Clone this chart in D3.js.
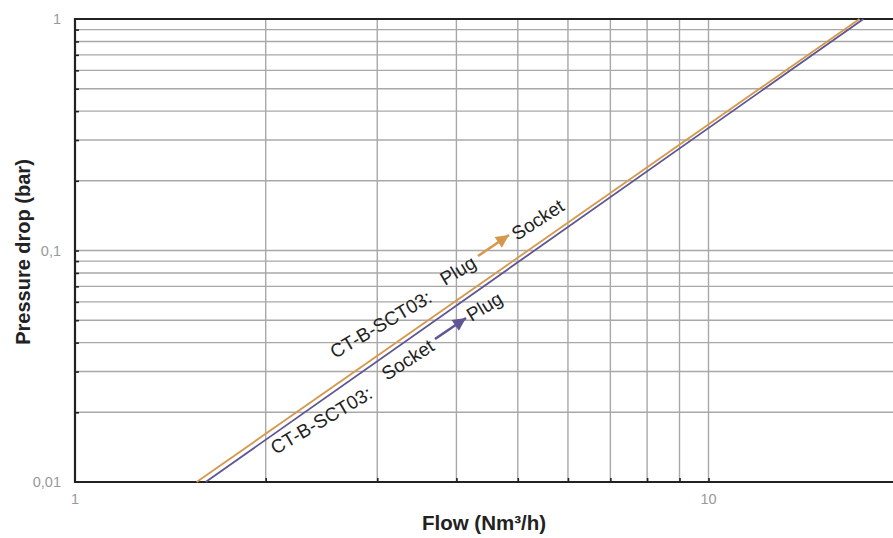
<!DOCTYPE html>
<html>
<head>
<meta charset="utf-8">
<script src="https://cdn.jsdelivr.net/npm/d3@7/dist/d3.min.js"></script>
<style>
  html, body { margin: 0; padding: 0; background: #fff; }
  svg { display: block; font-family: "Liberation Sans", Arial, sans-serif; }
</style>
</head>
<body>
<svg id="chart" width="893" height="538"></svg>
<script>
// Pressure drop curves for the CT-B-SCT03 coupling (log-log)
const flowDomain = [1, 20];
const pressureDomain = [0.01, 1];
const xTickLabels = [{ v: 1, t: "1" }, { v: 10, t: "10" }];
const yTickLabels = [{ v: 1, t: "1" }, { v: 0.1, t: "0,1" }, { v: 0.01, t: "0,01" }];
const xGridValues = [2, 3, 4, 5, 6, 7, 8, 9, 10];
const yGridValues = [0.02, 0.03, 0.04, 0.05, 0.06, 0.07, 0.08, 0.09, 0.1,
                     0.2, 0.3, 0.4, 0.5, 0.6, 0.7, 0.8, 0.9];

// Flow (Nm³/h) and pressure drop (bar) end points of each curve
const plugToSocketFlow = [1.556, 17.31];
const plugToSocketDrop = [0.01, 1];
const socketToPlugFlow = [1.608, 17.56];
const socketToPlugDrop = [0.01, 1];

const orange = "#d5994c";
const purple = "#5d5594";

const svg = d3.select("#chart");
const mLeft = 75, mTop = 19, mBottom = 482, mRight = 893;
const decade = 633.5;

const x = d3.scaleLog().domain(flowDomain).range([mLeft, mLeft + decade * Math.log10(flowDomain[1])]);
const y = d3.scaleLog().domain(pressureDomain).range([mBottom, mTop]);

const plot = svg.append("g");

// grid
plot.selectAll("line.hgrid").data(yGridValues).join("line")
  .attr("x1", mLeft).attr("x2", mRight)
  .attr("y1", d => y(d)).attr("y2", d => y(d))
  .attr("stroke", "#a8a8a8").attr("stroke-width", 1.4);
plot.selectAll("line.vgrid").data(xGridValues).join("line")
  .attr("y1", mTop).attr("y2", mBottom)
  .attr("x1", d => x(d)).attr("x2", d => x(d))
  .attr("stroke", "#a8a8a8").attr("stroke-width", 1.4);

// axes with inward ticks
const xAxis = d3.axisTop(x).tickValues(xGridValues).tickSize(4).tickFormat("");
const yAxis = d3.axisRight(y).tickValues(yGridValues).tickSize(4).tickFormat("");
const gx = svg.append("g").attr("transform", `translate(0,${mBottom})`).call(xAxis);
const gy = svg.append("g").attr("transform", `translate(${mLeft},0)`).call(yAxis);
[gx, gy].forEach(g => {
  g.select(".domain").remove();
  g.selectAll(".tick line").attr("stroke", "#222").attr("stroke-width", 1.6);
});

// frame lines
svg.append("line").attr("x1", mLeft).attr("x2", mRight).attr("y1", mBottom).attr("y2", mBottom)
  .attr("stroke", "#222").attr("stroke-width", 2.2);
svg.append("line").attr("x1", mLeft).attr("x2", mRight).attr("y1", mTop).attr("y2", mTop)
  .attr("stroke", "#222").attr("stroke-width", 2.2);
svg.append("line").attr("x1", mLeft).attr("x2", mLeft).attr("y1", mTop - 1).attr("y2", mBottom + 1)
  .attr("stroke", "#222").attr("stroke-width", 2.2);

// tick labels
svg.selectAll("text.yt").data(yTickLabels).join("text")
  .attr("x", 61).attr("y", d => y(d.v) + 5)
  .attr("text-anchor", "end").attr("font-size", 14.5).attr("fill", "#999")
  .text(d => d.t);
svg.selectAll("text.xt").data(xTickLabels).join("text")
  .attr("x", d => x(d.v)).attr("y", 504)
  .attr("text-anchor", "middle").attr("font-size", 14.5).attr("fill", "#999")
  .text(d => d.t);

// axis titles
svg.append("text").attr("x", 484).attr("y", 530)
  .attr("text-anchor", "middle").attr("font-size", 20.5).attr("font-weight", "bold").attr("fill", "#222")
  .text("Flow (Nm³/h)");
svg.append("text").attr("transform", "translate(30,252) rotate(-90)")
  .attr("text-anchor", "middle").attr("font-size", 20).attr("font-weight", "bold").attr("fill", "#222")
  .text("Pressure drop (bar)");

// curves
const line = d3.line().x(d => x(d[0])).y(d => y(d[1]));
svg.append("path").datum(d3.zip(plugToSocketFlow, plugToSocketDrop))
  .attr("d", line).attr("fill", "none").attr("stroke", orange).attr("stroke-width", 1.8);
svg.append("path").datum(d3.zip(socketToPlugFlow, socketToPlugDrop))
  .attr("d", line).attr("fill", "none").attr("stroke", purple).attr("stroke-width", 1.8);

// annotations
function label(px, py, angle, txt) {
  svg.append("text").attr("transform", `translate(${px},${py}) rotate(${angle})`)
    .attr("font-size", 19).attr("fill", "#222").text(txt);
}
const defs = svg.append("defs");
function marker(id, color) {
  defs.append("marker").attr("id", id).attr("viewBox", "0 0 10 10")
    .attr("refX", 10).attr("refY", 5)
    .attr("orient", "auto").attr("markerUnits", "userSpaceOnUse")
    .attr("markerWidth", 15).attr("markerHeight", 13)
    .append("path").attr("d", "M0,0 L10,5 L0,10 Z").attr("fill", color);
}
marker("arrO", orange);
marker("arrP", purple);
function arrow(x1, y1, x2, y2, id, color) {
  svg.append("line").attr("x1", x1).attr("y1", y1).attr("x2", x2).attr("y2", y2)
    .attr("stroke", color).attr("stroke-width", 2.6).attr("marker-end", `url(#${id})`);
}

// Plug → Socket (upper curve)
label(335, 359, -30.5, "CT-B-SCT03:");
label(445, 286, -31, "Plug");
arrow(478, 256, 509, 235, "arrO", orange);
label(517, 241, -33, "Socket");

// Socket → Plug (lower curve)
label(275.5, 455, -30.5, "CT-B-SCT03:");
label(387, 381, -33, "Socket");
arrow(435, 339, 466, 318, "arrP", purple);
label(471.5, 322, -31, "Plug");
</script>
</body>
</html>
